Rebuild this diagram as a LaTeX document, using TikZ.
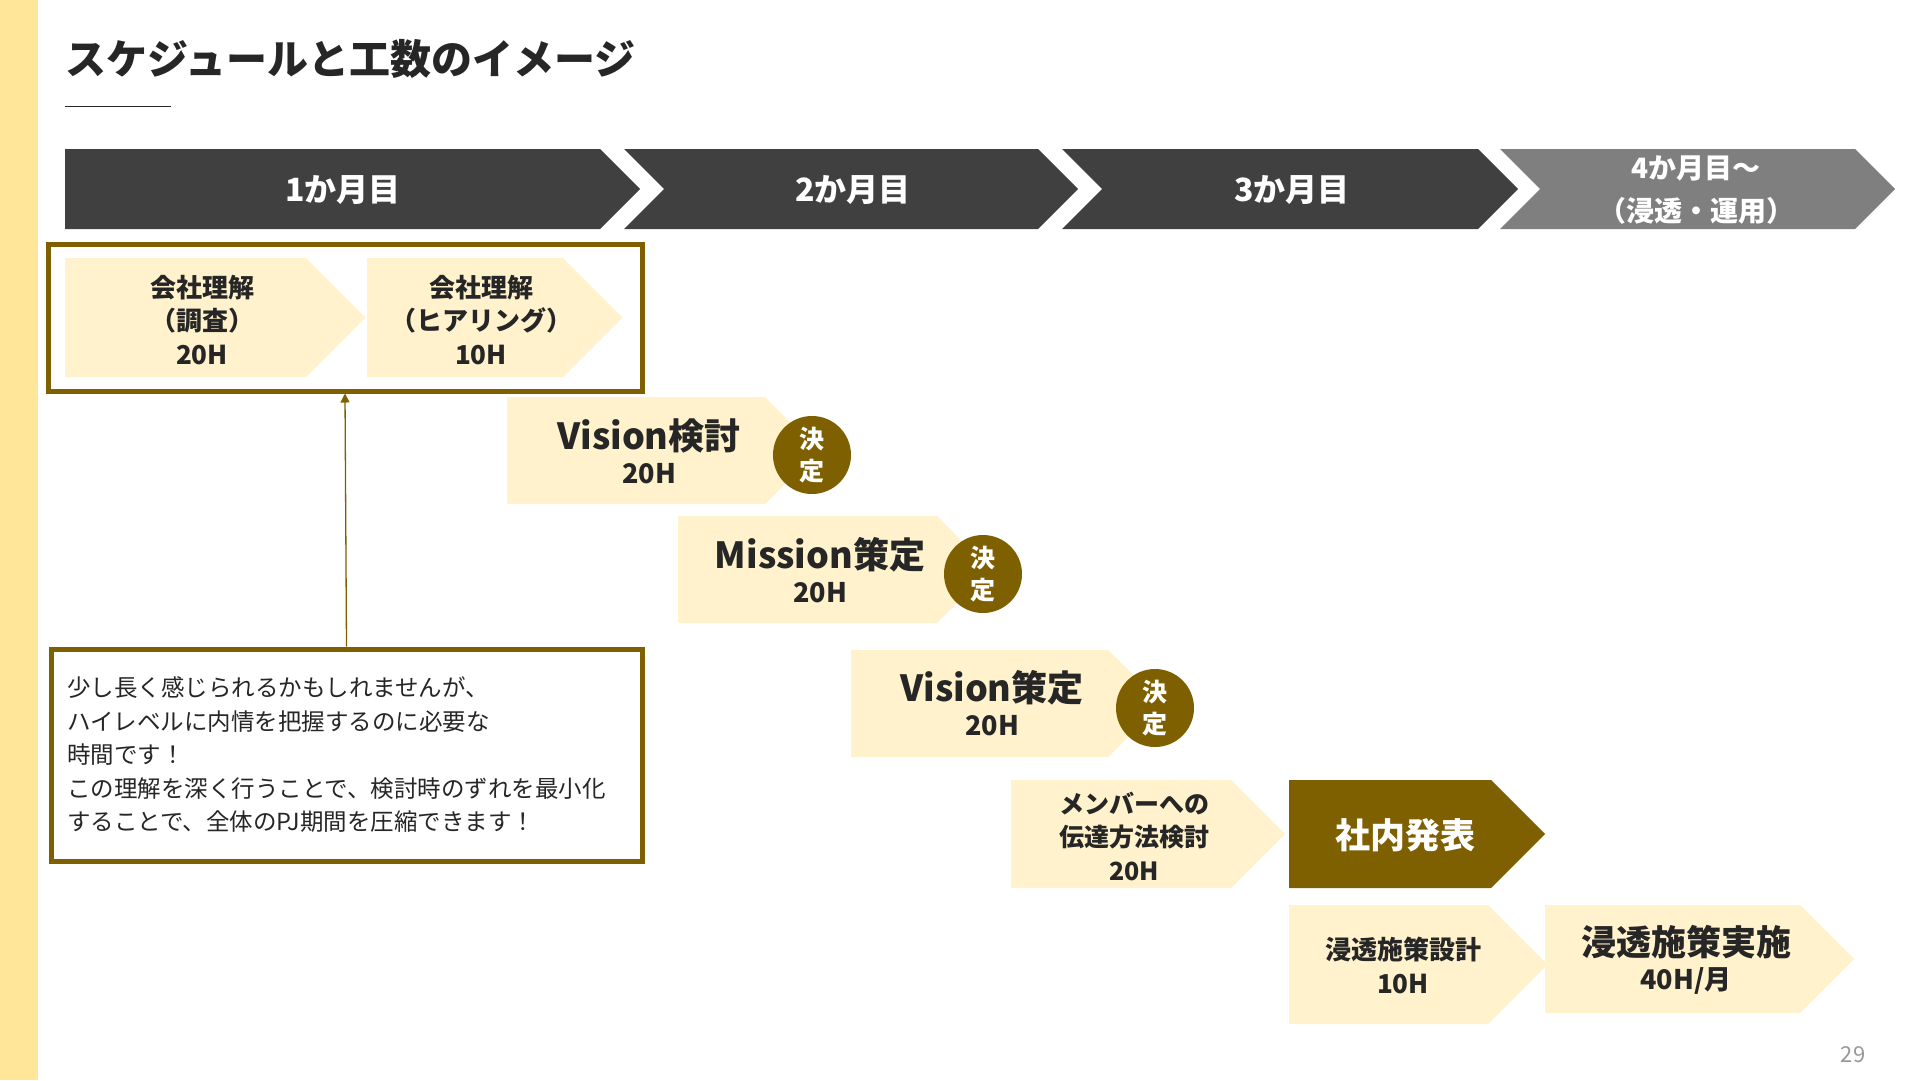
\documentclass[tikz,border=0pt]{standalone}
\usepackage{fontspec}
\setmainfont{Noto Sans CJK JP}
\usetikzlibrary{arrows.meta}
\definecolor{olivebr}{HTML}{7F6000}
\definecolor{cream}{HTML}{FFF2CC}
\definecolor{stripcol}{HTML}{FFE699}
\definecolor{darkbar}{HTML}{404040}
\definecolor{graybar}{HTML}{7F7F7F}
\definecolor{txt}{HTML}{262626}
\newcommand\fs[2]{\fontsize{#1}{#2}\selectfont}
% chevron with flat left: left, body-right, top, bottom, style
\newcommand\chevr[5]{\fill[#5] (#1,#3) -- (#2,#3) -- ({#2+(#4-#3)/2},{(#3+#4)/2}) -- (#2,#4) -- (#1,#4) -- cycle;}
% chevron with notched left
\newcommand\chevn[5]{\fill[#5] (#1,#3) -- (#2,#3) -- ({#2+(#4-#3)/2},{(#3+#4)/2}) -- (#2,#4) -- (#1,#4) -- ({#1+(#4-#3)/2},{(#3+#4)/2}) -- cycle;}
\tikzset{
  lbl/.style={align=center, inner sep=0pt, text=txt, font=\bfseries},
  month/.style={align=center, inner sep=0pt, text=white, font=\bfseries\fs{32}{40}},
  decide/.style={circle, fill=olivebr, minimum size=78pt, inner sep=0pt, text=white, align=center, font=\bfseries\fs{25}{32}},
  framebox/.style={draw=olivebr, line width=5pt, inner sep=0pt},
}
\begin{document}
\begin{tikzpicture}[x=1pt,y=-1pt]
\useasboundingbox (0,0) rectangle (1920,1080);
\fill[white] (0,0) rectangle (1920,1080);
% left strip
\fill[stripcol] (0,0) rectangle (38,1080);
% title
\node[anchor=west, inner sep=0pt, text=txt, font=\bfseries\fs{41}{48}] (title) at (65,59) {スケジュールと工数のイメージ};
\draw[txt, line width=1.5pt] (65,106.5) -- (171,106.5);

% month bar
\chevr{65}{600}{149}{229}{darkbar}
\chevn{624}{1038}{149}{229}{darkbar}
\chevn{1062}{1478}{149}{229}{darkbar}
\chevn{1500}{1855}{149}{229}{graybar}
\node[month] (m1) at (343,190) {1か月目};
\node[month] (m2) at (853,190) {2か月目};
\node[month] (m3) at (1292,190) {3か月目};
\node[month, font=\bfseries\fs{28}{43}] (m4) at (1696,190) {4か月目～\\（浸透・運用）};

% first frame
\node[framebox, minimum width=594pt, minimum height=147pt] (box1) at (345,317.5) {};
\chevr{65}{306}{258}{377}{cream}
\chevr{367}{563}{258}{377}{cream}
\node[lbl, font=\bfseries\fs{26}{33.5}] (a1) at (202,320) {会社理解\\（調査）\\20H};
\node[lbl, font=\bfseries\fs{26}{33.5}] (a2) at (481,320) {会社理解\\（ヒアリング）\\10H};

% Vision検討
\chevr{507}{765}{397}{504}{cream}
\node[lbl, font=\bfseries\fs{36}{40}] (v1) at (649,436) {Vision検討};
\node[lbl, font=\bfseries\fs{27}{32}] (v1h) at (649,474) {20H};
\node[decide] (d1) at (812,455) {決\\定};

% Mission策定
\chevr{678}{937}{516}{623}{cream}
\node[lbl, font=\bfseries\fs{36}{40}] (v2) at (820,555) {Mission策定};
\node[lbl, font=\bfseries\fs{27}{32}] (v2h) at (820,593) {20H};
\node[decide] (d2) at (983,574) {決\\定};

% Vision策定
\chevr{851}{1108}{650}{757}{cream}
\node[lbl, font=\bfseries\fs{36}{40}] (v3) at (992,688) {Vision策定};
\node[lbl, font=\bfseries\fs{27}{32}] (v3h) at (992,726) {20H};
\node[decide] (d3) at (1155,708) {決\\定};

% メンバーへの伝達方法検討
\chevr{1011}{1231}{780}{888}{cream}
\node[lbl, font=\bfseries\fs{25}{33.5}] (c1) at (1134,836) {メンバーへの\\伝達方法検討\\20H};

% 社内発表
\chevr{1289}{1491}{780}{888}{olivebr}
\node[lbl, text=white, font=\bfseries\fs{35}{40}] (c2) at (1405,835) {社内発表};

% 浸透施策設計
\chevr{1289}{1488}{905}{1024}{cream}
\node[lbl, font=\bfseries\fs{26}{34}] (c3) at (1403,965) {浸透施策設計\\10H};

% 浸透施策実施
\chevr{1545}{1800}{905}{1013}{cream}
\node[lbl, font=\bfseries\fs{35}{40}] (c4) at (1686,942) {浸透施策実施};
\node[lbl, font=\bfseries\fs{27}{32}] (c4h) at (1686,981) {40H/月};

% note
\node[framebox, minimum width=591pt, minimum height=212pt, text width=559pt, align=left, inner xsep=16pt, text=txt, font=\fs{23.5}{33.5}] (note) at (346.5,755) {少し長く感じられるかもしれませんが、\\ハイレベルに内情を把握するのに必要な\\時間です！\\この理解を深く行うことで、検討時のずれを最小化\\することで、全体のPJ期間を圧縮できます！};
\draw[olivebr, line width=1.3pt, -{Triangle[width=9pt,length=9pt]}] (note.north) -- (box1.south);

% page number
\node[inner sep=0pt, text=graybar!80, font=\fs{22}{26}] (pg) at (1853,1055) {29};
\end{tikzpicture}
\end{document}
